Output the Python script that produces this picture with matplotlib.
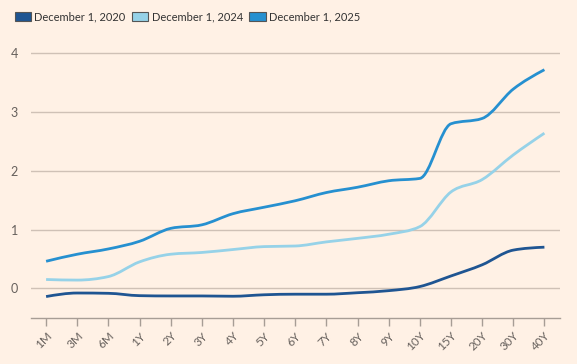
import numpy as np
import matplotlib
matplotlib.use("Agg")
import matplotlib.pyplot as plt
from matplotlib.path import Path
from matplotlib.patches import PathPatch, Patch

# yield curve values
tenors = ["1M", "3M", "6M", "1Y", "2Y", "3Y", "4Y", "5Y", "6Y", "7Y",
          "8Y", "9Y", "10Y", "15Y", "20Y", "30Y", "40Y"]
dec_2020 = [-0.14, -0.08, -0.085, -0.125, -0.13, -0.13, -0.135, -0.11, -0.10, -0.10,
            -0.075, -0.04, 0.03, 0.21, 0.40, 0.65, 0.70]
dec_2024 = [0.15, 0.14, 0.20, 0.45, 0.58, 0.61, 0.66, 0.71, 0.72, 0.79,
            0.85, 0.92, 1.05, 1.64, 1.85, 2.27, 2.64]
dec_2025 = [0.46, 0.58, 0.67, 0.80, 1.02, 1.08, 1.27, 1.38, 1.49, 1.63,
            1.72, 1.83, 1.87, 2.80, 2.89, 3.39, 3.72]
series_names = ["December 1, 2020", "December 1, 2024", "December 1, 2025"]

colors = ["#1f5592", "#96d2e8", "#2690d0"]
bg = "#fff1e5"
grid_c = "#cfc1b6"
text_c = "#66605c"


def monotone_path(x, y):
    # monotone cubic (like d3 curveMonotoneX), drawn as bezier segments
    x = np.asarray(x, float)
    y = np.asarray(y, float)
    n = len(x)
    h = np.diff(x)
    s = np.diff(y) / h
    t = np.zeros(n)
    for i in range(1, n - 1):
        p = (s[i - 1] * h[i] + s[i] * h[i - 1]) / (h[i - 1] + h[i])
        t[i] = (np.sign(s[i - 1]) + np.sign(s[i])) * min(abs(s[i - 1]), abs(s[i]), 0.5 * abs(p))
    t[0] = (3 * s[0] - t[1]) / 2
    t[-1] = (3 * s[-1] - t[-2]) / 2
    verts = [(x[0], y[0])]
    codes = [Path.MOVETO]
    for i in range(n - 1):
        dx = h[i] / 3
        verts += [(x[i] + dx, y[i] + dx * t[i]),
                  (x[i + 1] - dx, y[i + 1] - dx * t[i + 1]),
                  (x[i + 1], y[i + 1])]
        codes += [Path.CURVE4] * 3
    return Path(verts, codes)


plt.rcParams["font.family"] = ["Lato", "DejaVu Sans"]

fig = plt.figure(figsize=(5.77, 3.64), dpi=100, facecolor=bg)
ax = fig.add_axes([0.0529, 0.1272, 0.9176, 0.7588])
ax.set_facecolor(bg)

xs = np.arange(len(tenors))
for vals, c in zip([dec_2020, dec_2024, dec_2025], colors):
    ax.add_patch(PathPatch(monotone_path(xs, vals), fill=False, edgecolor=c,
                           linewidth=2.0, capstyle="butt", joinstyle="round", zorder=3))

ax.set_xlim(-0.5, 16.5)
ax.set_ylim(-0.5, 4.2)
ax.set_yticks([0, 1, 2, 3, 4])
ax.set_xticks(xs)
ax.set_xticklabels(tenors, rotation=45, ha="right", va="top",
                   rotation_mode="anchor", fontsize=8.5, color=text_c)
ax.tick_params(axis="x", length=6, width=1, color="#a79d95", pad=3)
ax.tick_params(axis="y", length=0, pad=9, labelsize=9, labelcolor=text_c)

ax.grid(axis="y", color=grid_c, linewidth=1)
ax.set_axisbelow(True)
for side in ["top", "right", "left"]:
    ax.spines[side].set_visible(False)
ax.spines["bottom"].set_color("#a79d95")
ax.spines["bottom"].set_linewidth(1)

handles = [Patch(facecolor=c, edgecolor="#555555", linewidth=0.8) for c in colors]
fig.legend(handles, series_names, loc="upper left", bbox_to_anchor=(0.012, 0.99),
           ncol=3, frameon=False, fontsize=8, handlelength=1.45, handleheight=0.9,
           handletextpad=0.3, columnspacing=0.6, labelcolor="#333333",
           borderaxespad=0.3)

fig.savefig("out.png", dpi=100, facecolor=bg)
